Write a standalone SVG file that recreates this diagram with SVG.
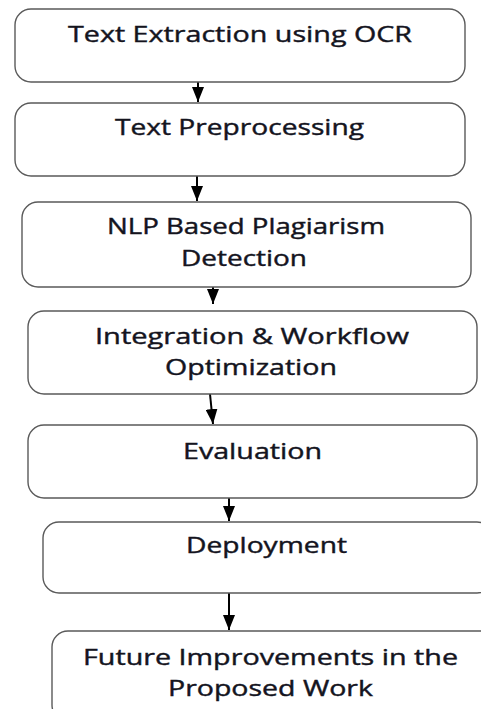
<svg xmlns="http://www.w3.org/2000/svg" width="481" height="709" viewBox="0 0 481 709">
  <defs>
    <style>
      .box { fill: #ffffff; stroke: #5a5a5a; stroke-width: 1.4; }
      .lbl { font-family: "Open Sans", "Noto Sans", "Liberation Sans", sans-serif; font-size: 21px; fill: #14141e; stroke: #14141e; stroke-width: 0.4; text-anchor: start; }
      .edge { stroke: #000000; stroke-width: 2; fill: none; marker-end: url(#head); }
    </style>
    <marker id="head" viewBox="0 0 15 12" refX="15" refY="6" markerWidth="15" markerHeight="12" markerUnits="userSpaceOnUse" orient="auto">
      <path d="M0,0 L15,6 L0,12 Z" fill="#000000"/>
    </marker>
  </defs>
  <rect width="481" height="709" fill="#ffffff"/>

  <g id="connectors">
    <line class="edge" x1="198" y1="82" x2="198" y2="102"/>
    <line class="edge" x1="197" y1="176" x2="197" y2="201"/>
    <line class="edge" x1="213" y1="287" x2="213" y2="304"/>
    <line class="edge" x1="210" y1="394" x2="213" y2="424"/>
    <line class="edge" x1="229" y1="498" x2="229" y2="521"/>
    <line class="edge" x1="229" y1="593" x2="229" y2="630"/>
  </g>

  <g id="ocr">
    <rect class="box" x="15" y="9" width="450" height="73" rx="16"/>
    <text class="lbl" x="68" y="42" textLength="344" lengthAdjust="spacingAndGlyphs">Text Extraction using OCR</text>
  </g>

  <g id="preprocessing">
    <rect class="box" x="15" y="103" width="450" height="73" rx="16"/>
    <text class="lbl" x="115" y="135" textLength="249" lengthAdjust="spacingAndGlyphs">Text Preprocessing</text>
  </g>

  <g id="plagiarism">
    <rect class="box" x="22" y="202" width="449" height="85" rx="16"/>
    <text class="lbl" x="107" y="234" textLength="278" lengthAdjust="spacingAndGlyphs">NLP Based Plagiarism</text>
    <text class="lbl" x="181" y="266" textLength="126" lengthAdjust="spacingAndGlyphs">Detection</text>
  </g>

  <g id="integration">
    <rect class="box" x="28" y="311" width="449" height="83" rx="16"/>
    <text class="lbl" x="95" y="344" textLength="314" lengthAdjust="spacingAndGlyphs">Integration &amp; Workflow</text>
    <text class="lbl" x="165" y="375" textLength="172" lengthAdjust="spacingAndGlyphs">Optimization</text>
  </g>

  <g id="evaluation">
    <rect class="box" x="28" y="425" width="449" height="73" rx="16"/>
    <text class="lbl" x="183" y="459" textLength="139" lengthAdjust="spacingAndGlyphs">Evaluation</text>
  </g>

  <g id="deployment">
    <rect class="box" x="43" y="522" width="450" height="71" rx="16"/>
    <text class="lbl" x="186" y="553" textLength="161" lengthAdjust="spacingAndGlyphs">Deployment</text>
  </g>

  <g id="future">
    <rect class="box" x="52" y="631" width="450" height="90" rx="16"/>
    <text class="lbl" x="83" y="665" textLength="375" lengthAdjust="spacingAndGlyphs">Future Improvements in the</text>
    <text class="lbl" x="168" y="696" textLength="205" lengthAdjust="spacingAndGlyphs">Proposed Work</text>
  </g>
</svg>
